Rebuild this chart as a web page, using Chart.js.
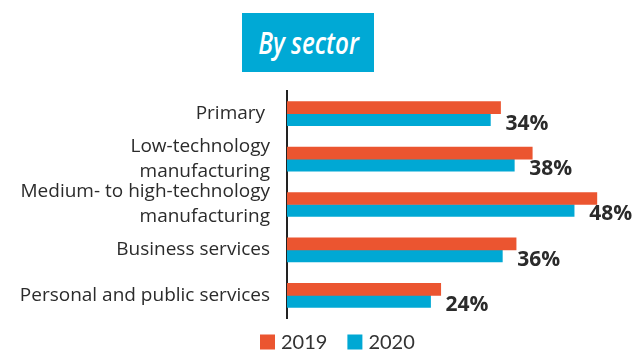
<!DOCTYPE html>
<html>
<head>
<meta charset="utf-8">
<script src="https://cdn.jsdelivr.net/npm/chart.js@4/dist/chart.umd.min.js"></script>
<style>
  html, body { margin: 0; padding: 0; background: #fff; overflow: hidden; }
  #wrap { position: relative; width: 638px; height: 350px; }
  #badge {
    position: absolute; left: 242px; top: 13px; width: 132px; height: 59px;
    background: #00a9d5;
    display: flex; align-items: center; justify-content: center;
  }
  #badge span {
    color: #fff;
    font-family: "Open Sans", sans-serif;
    font-style: italic; font-weight: 600; font-size: 31px;
    display: inline-block; transform: scaleX(0.78);
    white-space: nowrap; margin-top: -2px;
  }
  canvas { position: absolute; left: 0; top: 0; }
</style>
</head>
<body>
<div id="wrap">
  <canvas id="chart" width="638" height="350"></canvas>
  <div id="badge"><span>By sector</span></div>
</div>
<script>
// Share by sector, 2019 vs 2020 (%)
const categories = [
  "Primary ",
  ["Low-technology", "manufacturing"],
  ["Medium- to high-technology", "manufacturing"],
  "Business services",
  "Personal and public services"
];
const seriesNames = ["2019", "2020"];
const values2019 = [35.7, 41, 51.8, 38.3, 25.7];
const values2020 = [34, 38, 48, 36, 24];
const valueLabels = ["34%", "38%", "48%", "36%", "24%"];

const ORANGE = "#eb5530";
const BLUE = "#00a8d4";
const TEXT = "#2b2b2b";

// Value labels next to the 2020 bars, plus a compact legend underneath
const annotate = {
  id: "annotate",
  afterDatasetsDraw(chart) {
    const ctx = chart.ctx;
    const meta = chart.getDatasetMeta(1);
    ctx.save();
    ctx.fillStyle = TEXT;
    ctx.font = "bold 21px 'Open Sans', sans-serif";
    ctx.textAlign = "left";
    ctx.textBaseline = "middle";
    meta.data.forEach((bar, i) => {
      ctx.fillText(valueLabels[i], bar.x + 15, bar.y + 4);
    });

    // legend
    ctx.font = "20px Lato, sans-serif";
    const items = chart.data.datasets.map(d => ({ label: d.label, color: d.backgroundColor }));
    let x = 260;
    const y = 342;
    items.forEach(it => {
      ctx.fillStyle = it.color;
      ctx.fillRect(x, y - 7.5, 15, 15);
      ctx.fillStyle = "#333";
      ctx.fillText(it.label, x + 21, y + 1);
      x += 21 + ctx.measureText(it.label).width + 20;
    });
    ctx.restore();
  }
};

new Chart(document.getElementById("chart"), {
  type: "bar",
  data: {
    labels: categories,
    datasets: [
      { label: seriesNames[0], data: values2019, backgroundColor: ORANGE },
      { label: seriesNames[1], data: values2020, backgroundColor: BLUE }
    ]
  },
  options: {
    indexAxis: "y",
    responsive: false,
    animation: false,
    layout: { padding: { top: 91, bottom: 32, right: 22, left: 0 } },
    datasets: { bar: { barThickness: 12 } },
    scales: {
      x: { display: false, min: 0, max: 55 },
      y: {
        afterFit(scale) { scale.width = 287; },
        grid: { display: false, drawTicks: false },
        border: { display: true, color: "#222", width: 2 },
        ticks: {
          autoSkip: false,
          padding: 17,
          color: TEXT,
          font: { family: "'Open Sans', sans-serif", size: 19, lineHeight: 1.32 }
        }
      }
    },
    plugins: {
      legend: { display: false },
      tooltip: { enabled: false }
    }
  },
  plugins: [annotate]
});
</script>
</body>
</html>
